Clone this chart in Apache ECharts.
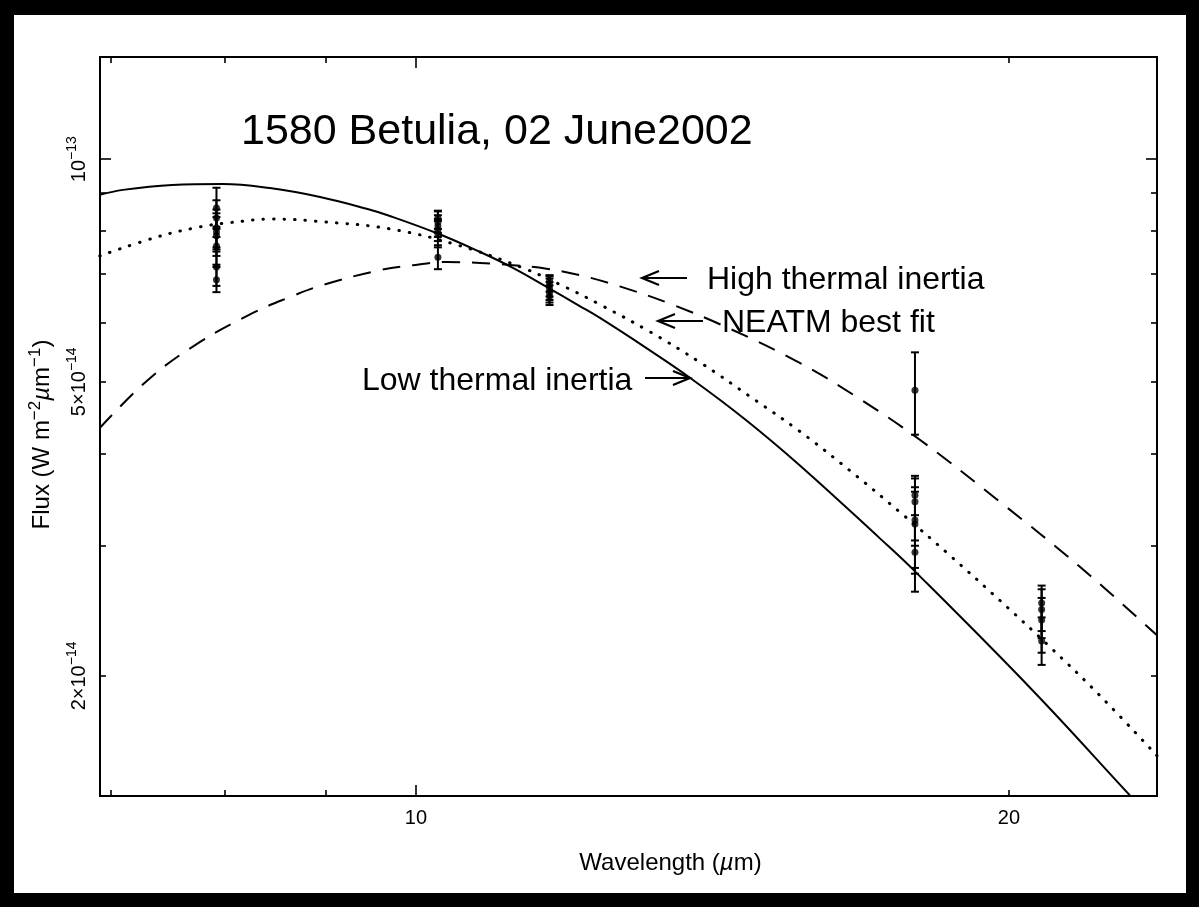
<!DOCTYPE html>
<html><head><meta charset="utf-8">
<script src="https://cdn.jsdelivr.net/npm/echarts@6/dist/echarts.min.js"></script>
<style>
html,body{margin:0;padding:0;background:#000;width:1199px;height:907px;overflow:hidden}
#paper{position:absolute;left:14px;top:15px;width:1172px;height:878px;background:#fff}
#chart{position:absolute;left:0;top:0;width:1199px;height:907px}
</style></head><body><div id="paper"></div><div id="chart"></div>
<script>
// Flux values are in units of 1e-14 W m^-2 um^-1, wavelengths in um.
const lowInertiaWl   = [6.91, 7.10, 7.52, 7.98, 8.43, 8.94, 9.44, 9.70, 10.25, 10.78, 11.20, 11.65, 12.11, 12.40, 13.07, 13.78, 14.69, 15.67, 17.20, 17.92, 20.57, 23.09, 23.78];
const lowInertiaFlux = [8.95, 9.09, 9.23, 9.26, 9.14, 8.89, 8.57, 8.38, 7.94, 7.49, 7.13, 6.72, 6.33, 6.10, 5.57, 5.06, 4.45, 3.85, 3.07, 2.77, 1.91, 1.37, 1.26];

const neatmWl   = [6.91, 7.39, 7.77, 8.05, 8.46, 8.97, 9.70, 10.49, 11.33, 11.93, 12.40, 13.15, 13.94, 14.77, 15.67, 16.61, 17.61, 18.67, 19.79, 20.98, 22.25, 23.78];
const neatmFlux = [7.40, 7.85, 8.10, 8.21, 8.30, 8.23, 8.05, 7.66, 7.13, 6.70, 6.36, 5.84, 5.31, 4.78, 4.28, 3.79, 3.33, 2.91, 2.53, 2.19, 1.88, 1.56];

const highInertiaWl   = [6.91, 7.33, 7.77, 8.27, 8.63, 8.97, 9.59, 9.97, 10.37, 10.78, 11.20, 11.65, 12.11, 12.69, 13.45, 14.43, 15.67, 16.80, 18.03, 19.79, 21.73, 23.78];
const highInertiaFlux = [4.33, 5.06, 5.66, 6.20, 6.51, 6.76, 7.08, 7.19, 7.26, 7.24, 7.19, 7.11, 6.97, 6.73, 6.38, 5.90, 5.30, 4.74, 4.17, 3.44, 2.81, 2.27];

// Observations (each with its own error bar)
const obsWl   = [7.92,7.92,7.92,7.92,7.92,7.92,7.92,7.92, 10.26,10.26,10.26,10.26,10.26,10.26, 11.69,11.69,11.69,11.69,11.69, 17.92,17.92,17.92,17.92,17.92,17.92, 20.78,20.78,20.78,20.78];
const obsFlux = [8.59,8.33,8.08,7.97,7.88,7.63,7.15,6.87, 8.33,8.22,8.12,8.02,7.92,7.37, 6.85,6.76,6.68,6.60,6.52, 4.87,3.51,3.44,3.25,3.21,2.94, 2.51,2.46,2.38,2.23];
const obsLow  = [8.05,7.85,7.60,7.50,7.40,7.20,6.74,6.61, 8.05,7.95,7.85,7.75,7.60,7.10, 6.62,6.52,6.45,6.40,6.35, 4.24,3.05,3.00,2.80,2.75,2.60, 2.30,2.25,2.15,2.07];
const obsHigh = [9.15,8.80,8.55,8.45,8.35,8.10,7.55,7.15, 8.52,8.50,8.40,8.30,8.25,7.65, 6.97,6.95,6.90,6.82,6.75, 5.48,3.73,3.70,3.60,3.55,3.30, 2.65,2.62,2.55,2.40];

// Axis ranges and ticks
const xRange = [6.912, 23.78];
const yRange = [1.376, 13.75];
const xMinorTicks = [7, 8, 9, 20];
const xMajorTicks = [10];
const xLabelValues = [10, 20];
const xLabelTexts = ['10', '20'];
const yMinorTicks = [2, 3, 4, 5, 6, 7, 8, 9];
const yMajorTicks = [10];
const yLabelValues = [2, 5, 10];
const yLabelTexts = ['2×10{sup|−14}', '5×10{sup|−14}', '10{sup|−13}'];

const lg = Math.log10;
const FONT = 'Liberation Sans';

function tickAxis(pos, ticks, len, extra) {
  const isX = (pos === 'bottom' || pos === 'top');
  const r = isX ? xRange : yRange;
  return Object.assign({
    type: 'value', position: pos, min: lg(r[0]), max: lg(r[1]),
    axisLine: {show: false}, splitLine: {show: false},
    axisTick: {show: true, inside: true, length: len, customValues: ticks.map(lg), lineStyle: {color: '#000', width: 1.6}},
    axisLabel: {show: false}
  }, extra || {});
}

const chart = echarts.init(document.getElementById('chart'), null, {renderer: 'canvas'});

const series = [
  {name: 'Low thermal inertia', type: 'line', xAxisIndex: 0, yAxisIndex: 0, showSymbol: false, smooth: 0.4, clip: true,
   lineStyle: {color: '#000', width: 2}, data: lowInertiaWl.map((w, i) => [w, lowInertiaFlux[i]])},
  {name: 'NEATM best fit', type: 'line', xAxisIndex: 0, yAxisIndex: 0, showSymbol: false, smooth: 0.4, clip: true,
   lineStyle: {color: '#000', width: 3, type: [0.5, 10], cap: 'round'}, data: neatmWl.map((w, i) => [w, neatmFlux[i]])},
  {name: 'High thermal inertia', type: 'line', xAxisIndex: 0, yAxisIndex: 0, showSymbol: false, smooth: 0.4, clip: true,
   lineStyle: {color: '#000', width: 2, type: [18, 12]}, data: highInertiaWl.map((w, i) => [w, highInertiaFlux[i]])},
  {name: 'errors', type: 'custom', xAxisIndex: 0, yAxisIndex: 0, clip: true,
   encode: {x: 0, y: [1, 2, 3]},
   data: obsWl.map((w, i) => [w, obsFlux[i], obsLow[i], obsHigh[i]]),
   renderItem: function (params, api) {
     const x = api.value(0);
     const pLo = api.coord([x, api.value(2)]);
     const pHi = api.coord([x, api.value(3)]);
     const cw = 4;
     const st = {stroke: '#000', lineWidth: 2};
     return {type: 'group', children: [
       {type: 'line', shape: {x1: pLo[0], y1: pLo[1], x2: pHi[0], y2: pHi[1]}, style: st},
       {type: 'line', shape: {x1: pLo[0] - cw, y1: pLo[1], x2: pLo[0] + cw, y2: pLo[1]}, style: st},
       {type: 'line', shape: {x1: pHi[0] - cw, y1: pHi[1], x2: pHi[0] + cw, y2: pHi[1]}, style: st}
     ]};
   }},
  {name: 'obs', type: 'scatter', xAxisIndex: 0, yAxisIndex: 0, symbol: 'circle', symbolSize: 7,
   itemStyle: {color: '#000'}, data: obsWl.map((w, i) => [w, obsFlux[i]])}
];

function arrow(x1, y1, x2, y2) {
  const dx = x2 - x1, dy = y2 - y1, L = Math.hypot(dx, dy);
  const ux = dx / L, uy = dy / L, hl = 17, hw = 7;
  const bx = x2 - ux * hl, by = y2 - uy * hl;
  return [
    {type: 'line', shape: {x1: x1, y1: y1, x2: x2, y2: y2}, style: {stroke: '#000', lineWidth: 2.2}, z: 100},
    {type: 'polyline', shape: {points: [[bx - uy * hw, by + ux * hw], [x2, y2], [bx + uy * hw, by - ux * hw]]},
     style: {stroke: '#000', lineWidth: 2.2, fill: null}, z: 100}
  ];
}

const graphics = [
  {type: 'text', left: 241, top: 111, z: 100, style: {text: '1580 Betulia, 02 June2002', font: '43px "' + FONT + '"', fill: '#000'}},
  {type: 'text', left: 707, top: 264, z: 100, style: {text: 'High thermal inertia', font: '32px "' + FONT + '"', fill: '#000'}},
  {type: 'text', left: 722, top: 307, z: 100, style: {text: 'NEATM best fit', font: '32px "' + FONT + '"', fill: '#000'}},
  {type: 'text', left: 362, top: 365, z: 100, style: {text: 'Low thermal inertia', font: '32px "' + FONT + '"', fill: '#000'}}
].concat(arrow(687, 278, 642, 278), arrow(703, 321, 658, 321), arrow(645, 378, 690, 378));

const option = {
  animation: false,
  backgroundColor: 'transparent',
  textStyle: {fontFamily: FONT},
  grid: {left: 100, right: 42, top: 57, bottom: 111, show: true, borderColor: '#000', borderWidth: 2, backgroundColor: 'transparent'},
  xAxis: [
    {type: 'log', logBase: 10, min: xRange[0], max: xRange[1], position: 'bottom',
     axisLine: {show: false}, axisTick: {show: false}, axisLabel: {show: false}, splitLine: {show: false}, minorTick: {show: false}},
    tickAxis('bottom', xMinorTicks, 6, {
      name: 'Wavelength ({mu|µ}m)', nameLocation: 'middle', nameGap: 55,
      nameTextStyle: {fontSize: 24, color: '#000', fontFamily: FONT, padding: [0, 0, 0, 84],
        rich: {mu: {fontSize: 24, fontStyle: 'italic', fontFamily: FONT}}},
      axisLabel: {show: true, customValues: xLabelValues.map(lg), margin: 12, fontSize: 20, color: '#000', fontFamily: FONT,
        formatter: v => { const k = xLabelValues.findIndex(t => Math.abs(lg(t) - v) < 1e-6); return k >= 0 ? xLabelTexts[k] : ''; }}
    }),
    tickAxis('bottom', xMajorTicks, 11),
    tickAxis('top', xMinorTicks, 6),
    tickAxis('top', xMajorTicks, 11)
  ],
  yAxis: [
    {type: 'log', logBase: 10, min: yRange[0], max: yRange[1], position: 'left',
     axisLine: {show: false}, axisTick: {show: false}, axisLabel: {show: false}, splitLine: {show: false}, minorTick: {show: false}},
    tickAxis('left', yMinorTicks, 6, {
      name: 'Flux (W m{sup|−2}{mu|µ}m{sup|−1})', nameLocation: 'middle', nameGap: 40, nameRotate: 90,
      nameTextStyle: {fontSize: 24, color: '#000', fontFamily: FONT, lineHeight: 30, padding: [0, 16, 0, 0],
        rich: {sup: {fontSize: 17, verticalAlign: 'top', lineHeight: 30, fontFamily: FONT}, mu: {fontSize: 24, fontStyle: 'italic', fontFamily: FONT, lineHeight: 30}}},
      axisLabel: {show: true, rotate: 90, customValues: yLabelValues.map(lg), margin: 7, fontSize: 20, color: '#000', fontFamily: FONT, lineHeight: 28,
        rich: {sup: {fontSize: 14, verticalAlign: 'top', lineHeight: 28, fontFamily: FONT}},
        formatter: v => { const k = yLabelValues.findIndex(t => Math.abs(lg(t) - v) < 1e-6); return k >= 0 ? yLabelTexts[k] : ''; }}
    }),
    tickAxis('left', yMajorTicks, 11),
    tickAxis('right', yMinorTicks, 6),
    tickAxis('right', yMajorTicks, 11)
  ],
  series: series,
  graphic: graphics
};
chart.setOption(option);
</script></body></html>
